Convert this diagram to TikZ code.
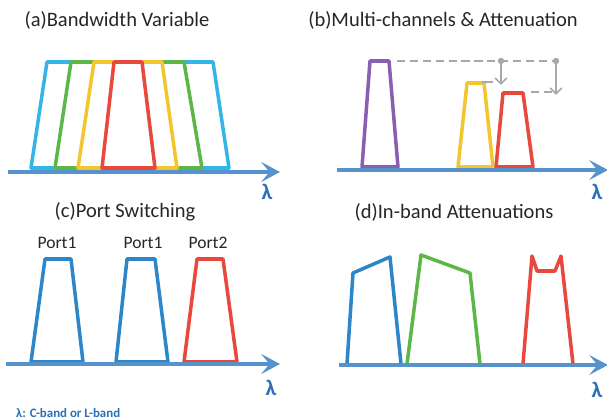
\documentclass[tikz,border=0pt]{standalone}
\usepackage{fontspec}
\setmainfont{Carlito}
\usetikzlibrary{arrows.meta}

\begin{document}
\begin{tikzpicture}[x=0.03cm,y=0.03cm,
	achse/.style={line width=3.6pt, draw=pltaxis, -{Stealth[length=16pt,width=17pt,inset=7pt]}},
	kurve/.style={line width=3pt, line join=round},
	titel/.style={font=\fontsize{17.5}{20}\selectfont, text=black!85},
	portlbl/.style={font=\fontsize{15}{18}\selectfont, text=black!85},
	lam/.style={font=\fontsize{19}{21}\selectfont\bfseries, text=pltlam},
	hilfs/.style={draw=pltgray, line width=1.4pt},
	punkt/.style={circle, fill=pltgray, inner sep=0pt, minimum size=5.5pt}]

	%Farben
	\definecolor{pltaxis}{RGB}{86,146,204}
	\definecolor{pltlam}{RGB}{41,112,184}
	\definecolor{pltcyan}{RGB}{52,181,230}
	\definecolor{pltblue}{RGB}{45,134,201}
	\definecolor{pltgreen}{RGB}{93,183,72}
	\definecolor{pltyellow}{RGB}{243,198,48}
	\definecolor{pltred}{RGB}{233,72,60}
	\definecolor{pltpurple}{RGB}{138,94,176}
	\definecolor{pltgray}{RGB}{168,168,168}

	\useasboundingbox (0,0) rectangle (607,420);

%oben
	%(a) Bandbreite
	\node[titel] (ta) at (117,400) {(a)Bandwidth Variable};
	\foreach \bl/\tl/\tr/\br/\farbe in {31/47/213/229/pltcyan, 55/71/184/202/pltgreen,
		78/94/162/177/pltyellow, 102/114/142/155/pltred}
		\draw[kurve,\farbe] (\bl,252)--(\tl,358)--(\tr,358)--(\br,252)--cycle;
	\draw[achse] (8,248)--(280,248);
	\node[lam] (la) at (267,228) {λ};

	%(b) Kanaele + Daempfung
	\node[titel] (tb) at (443,400) {(b)Multi-channels \& Attenuation};
	\draw[kurve,pltpurple] (362,253)--(370,359)--(389,359)--(398,253)--cycle;
	\draw[kurve,pltyellow] (458,253)--(467,337)--(484,337)--(493,253)--cycle;
	\draw[kurve,pltred] (496,253)--(503,327)--(523,327)--(533,253)--cycle;
	\draw[achse] (337,250)--(608,250);
	\node[lam] (lb) at (597,228) {λ};

	\draw[hilfs, dash pattern=on 7pt off 4pt] (397,359)--(558,359);
	\draw[hilfs] (482,338)--(493,338);
	\draw[hilfs, dash pattern=on 7pt off 4pt] (531,328)--(553,328);
	\node[punkt] (d1) at (501,359) {};
	\node[punkt] (d2) at (556,359) {};
	\coordinate (e1) at (501,335);
	\coordinate (e2) at (556,325);
	\draw[hilfs, -{Straight Barb[length=5pt,width=10pt]}] (d1)--(e1);
	\draw[hilfs, -{Straight Barb[length=5pt,width=10pt]}] (d2)--(e2);

%unten
	%(c) Ports
	\node[titel] (tc) at (125,208) {(c)Port Switching};
	\foreach \bl/\tl/\tr/\br/\farbe in {31/45/71/83/pltblue, 116/127/155/168/pltblue,
		184/197/223/237/pltred}
		\draw[kurve,\farbe] (\bl,58)--(\tl,161)--(\tr,161)--(\br,58)--cycle;
	\node[portlbl] (p1) at (57,177) {Port1};
	\node[portlbl] (p2) at (143,177) {Port1};
	\node[portlbl] (p3) at (208,177) {Port2};
	\draw[achse] (6,56)--(280,56);
	\node[lam] (lc) at (271,32) {λ};

	%(d) In-band
	\node[titel] (td) at (454,208) {(d)In-band Attenuations};
	\draw[kurve,pltblue] (347,56)--(353,147)--(390,163)--(401,56);
	\draw[kurve,pltgreen] (407,56)--(421,165)--(470,147)--(480,56);
	\draw[kurve,pltred] (523,56)--(532,164)--(537,149)--(555,149)--(561,164)--(573,56);
	\draw[achse] (339,55)--(608,55);
	\node[lam] (ld) at (597,30) {λ};

	%Legende
	\node[right, font=\fontsize{11}{13}\selectfont\bfseries, text=pltlam, inner sep=0pt] (fn) at (16,7) {λ: C-band or L-band};
\end{tikzpicture}
\end{document}
